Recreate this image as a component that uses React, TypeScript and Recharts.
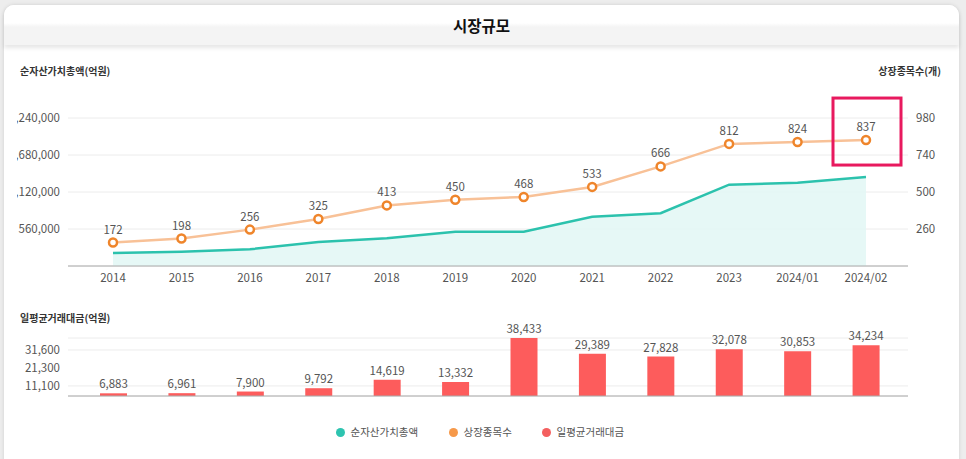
import React from 'react';
import {
  ComposedChart, BarChart, Bar, Area, Line, XAxis, YAxis, CartesianGrid,
  LabelList, ReferenceDot,
} from 'recharts';

const categories = ['2014', '2015', '2016', '2017', '2018', '2019', '2020', '2021', '2022', '2023', '2024/01', '2024/02'];
const netAssets = [197000, 216000, 253000, 363000, 419000, 519000, 520000, 746000, 798000, 1231000, 1261000, 1347000];
const listedCount = [172, 198, 256, 325, 413, 450, 468, 533, 666, 812, 824, 837];
const dailyTrading = [6883, 6961, 7900, 9792, 14619, 13332, 38433, 29389, 27828, 32078, 30853, 34234];

const leftTicks = [560000, 1120000, 1680000, 2240000];
const rightTicks = [260, 500, 740, 980];
const barTicks = [11100, 21300, 31600];

const seriesNames = ['순자산가치총액', '상장종목수', '일평균거래대금'];
const seriesColors = ['#2ec4b0', '#f6994a', '#f45f5f'];

const topData = categories.map((c, i) => ({ cat: c, nav: netAssets[i], count: listedCount[i] }));
const bottomData = categories.map((c, i) => ({ cat: c, trade: dailyTrading[i] }));

const FONT = "'Noto Sans CJK KR', 'Noto Sans', sans-serif";
const fmt = (v: number) => v.toLocaleString('en-US');
const tickStyle = { fill: '#555', fontSize: 11.5, fontFamily: FONT };

const HighlightBox = (props: any) => {
  const { cx, cy } = props;
  if (cx == null || cy == null) return null;
  return (
    <rect x={cx - 33} y={cy - 42} width={68} height={67} fill="none" stroke="#e8195e" strokeWidth={3} />
  );
};

export default function App() {
  return (
    <div style={{ position: 'absolute', left: 0, top: 0, width: 966, height: 459, background: '#ededed', overflow: 'hidden', fontFamily: FONT }}>
      <div style={{ position: 'absolute', left: 4, top: 5, width: 955, height: 480, background: '#fff', borderRadius: 10, boxShadow: '0 0 4px rgba(0,0,0,0.12)' }} />
      <div style={{
        position: 'absolute', left: 4, top: 5, width: 955, height: 40, borderRadius: '10px 10px 0 0',
        background: 'linear-gradient(#ffffff 0%, #ffffff 45%, #f4f4f4 55%, #f4f4f4 100%)',
        boxShadow: '0 3px 4px rgba(0,0,0,0.10)', textAlign: 'center', lineHeight: '40px',
        fontSize: 15.5, fontWeight: 700, color: '#111',
      }}>시장규모</div>

      <div style={{ position: 'absolute', left: 20, top: 64, fontSize: 10, fontWeight: 700, color: '#333', lineHeight: '14px' }}>순자산가치총액(억원)</div>
      <div style={{ position: 'absolute', right: 25, top: 64, fontSize: 10, fontWeight: 700, color: '#333', lineHeight: '14px' }}>상장종목수(개)</div>
      <div style={{ position: 'absolute', left: 20, top: 311, fontSize: 10, fontWeight: 700, color: '#333', lineHeight: '14px' }}>일평균거래대금(억원)</div>

      <div style={{ position: 'absolute', left: 17, top: 50 }}>
        <ComposedChart width={942} height={246} data={topData} margin={{ top: 68, right: 0, bottom: 0, left: 0 }}>
          <CartesianGrid vertical={false} stroke="#ececec" yAxisId="left" />
          <XAxis dataKey="cat" height={30} padding={{ left: 45, right: 42 }} axisLine={{ stroke: '#aaa' }} tickLine={false} tick={tickStyle} interval={0} />
          <YAxis yAxisId="left" width={51} domain={[0, 2240000]} ticks={leftTicks} axisLine={false} tickLine={false} tick={tickStyle} tickFormatter={fmt} />
          <YAxis yAxisId="right" orientation="right" width={51} domain={[20, 980]} ticks={rightTicks} axisLine={false} tickLine={false} tick={tickStyle} />
          <Area yAxisId="left" type="linear" dataKey="nav" stroke="#2cc2ad" strokeWidth={2.5} fill="#e2f7f4" fillOpacity={0.85} dot={false} activeDot={false} isAnimationActive={false} />
          <Line yAxisId="right" type="linear" dataKey="count" stroke="#f8c197" strokeWidth={2.5}
            dot={{ r: 4, stroke: '#ef852b', strokeWidth: 2.5, fill: '#fff' }} activeDot={false} isAnimationActive={false}>
            <LabelList dataKey="count" position="top" offset={9} fill="#555" fontSize={11.5} fontFamily={FONT} />
          </Line>
          <ReferenceDot yAxisId="right" x={categories[categories.length - 1]} y={listedCount[listedCount.length - 1]} ifOverflow="visible" shape={HighlightBox} />
        </ComposedChart>
      </div>

      <div style={{ position: 'absolute', left: 17, top: 300 }}>
        <BarChart width={942} height={100} data={bottomData} margin={{ top: 38, right: 51, bottom: 0, left: 0 }}>
          <CartesianGrid vertical={false} stroke="#ececec" />
          <XAxis dataKey="cat" height={4} tick={false} padding={{ left: 11, right: 8 }} axisLine={{ stroke: '#aaa' }} tickLine={false} />
          <YAxis width={51} domain={[5350, 38433]} ticks={barTicks} axisLine={false} tickLine={false} tick={tickStyle} tickFormatter={fmt} />
          <Bar dataKey="trade" fill="#fd5c5c" barSize={27} isAnimationActive={false}>
            <LabelList dataKey="trade" position="top" offset={5} fill="#555" fontSize={11.5} fontFamily={FONT} formatter={(v: any) => fmt(Number(v))} />
          </Bar>
        </BarChart>
      </div>

      {seriesNames.map((name, i) => {
        const dotX = [340, 453, 546][i];
        return (
          <div key={name} style={{ position: 'absolute', left: dotX - 4.5, top: 425, height: 14, display: 'flex', alignItems: 'center' }}>
            <span style={{ width: 9, height: 9, borderRadius: '50%', background: seriesColors[i], display: 'inline-block' }} />
            <span style={{ marginLeft: 6, fontSize: 10.5, color: '#555', lineHeight: '14px' }}>{name}</span>
          </div>
        );
      })}
    </div>
  );
}
